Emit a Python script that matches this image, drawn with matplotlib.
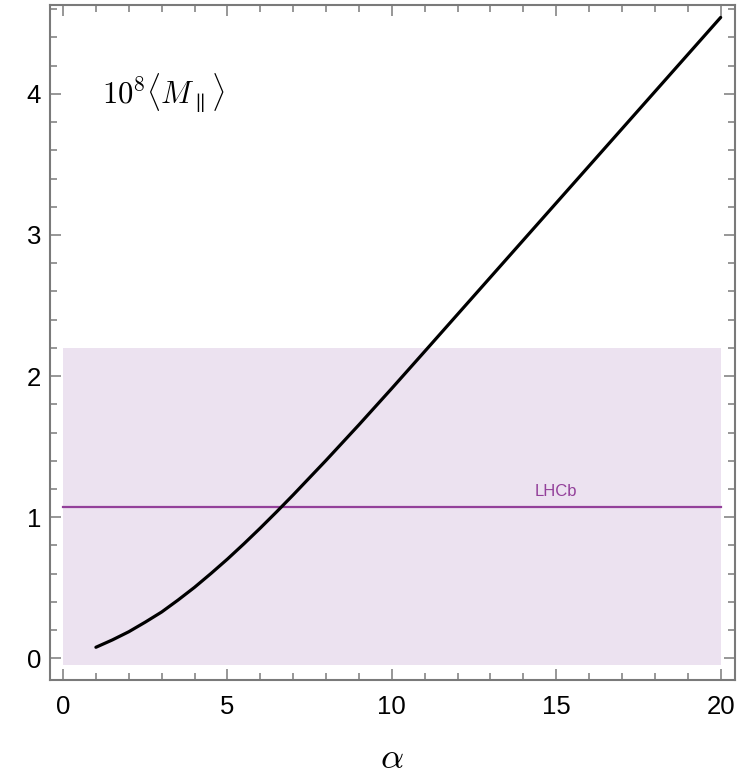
import matplotlib.pyplot as plt
from matplotlib.ticker import MultipleLocator

DPI = 100

# Кривая 10^8 <M_par> в зависимости от alpha
alpha = [1, 1.5, 2, 2.5, 3, 3.5, 4, 4.5, 5, 5.5, 6, 6.5, 7, 8, 9, 10,
         11, 12, 13, 14, 15, 16, 17, 18, 19, 20]
m_par = [0.078, 0.13, 0.188, 0.256, 0.328, 0.413, 0.503, 0.601, 0.703,
         0.811, 0.923, 1.039, 1.158, 1.403, 1.655, 1.913, 2.175, 2.438,
         2.701, 2.964, 3.227, 3.49, 3.753, 4.016, 4.279, 4.542]

# Полоса LHCb
lhcb_central = 1.07
lhcb_low, lhcb_high = -0.05, 2.2
lhcb_xrange = (0, 20)

plt.rcParams['mathtext.fontset'] = 'cm'
plt.rcParams['font.family'] = ['Liberation Sans', 'DejaVu Sans']

fig = plt.figure(figsize=(754 / DPI, 780 / DPI), dpi=DPI)
ax = fig.add_axes([0.0657, 0.1282, 0.975 - 0.0657, 0.9936 - 0.1282])

ax.fill_between(lhcb_xrange, lhcb_low, lhcb_high, color='#ECE2F0', lw=0, zorder=1)
ax.plot(lhcb_xrange, [lhcb_central, lhcb_central], color='#93409A', lw=1.6, zorder=2)
ax.text(15, lhcb_central + 0.06, 'LHCb', color='#93409A', fontsize=12,
        ha='center', va='bottom', zorder=3)

ax.plot(alpha, m_par, color='black', lw=2.3, solid_capstyle='round',
        solid_joinstyle='round', zorder=4)

ax.text(1.2, 4.0, r'$10^8\langle M_{\parallel}\rangle$', fontsize=22,
        ha='left', va='center')

ax.set_xlim(-0.41, 20.44)
ax.set_ylim(-0.154, 4.63)
ax.xaxis.set_major_locator(MultipleLocator(5))
ax.xaxis.set_minor_locator(MultipleLocator(1))
ax.yaxis.set_major_locator(MultipleLocator(1))
ax.yaxis.set_minor_locator(MultipleLocator(0.2))

for s in ax.spines.values():
    s.set_color('#7a7a7a')
    s.set_linewidth(1.5)

ax.tick_params(which='both', direction='in', top=True, right=True,
               color='#7a7a7a', width=1.1, labelsize=18.5)
ax.tick_params(which='major', length=8)
ax.tick_params(which='minor', length=5)
ax.tick_params(axis='x', pad=11)
ax.tick_params(axis='y', pad=6)

ax.set_xlabel(r'$\alpha$', fontsize=26, labelpad=16)

plt.savefig('out.png', dpi=DPI)
plt.close()
